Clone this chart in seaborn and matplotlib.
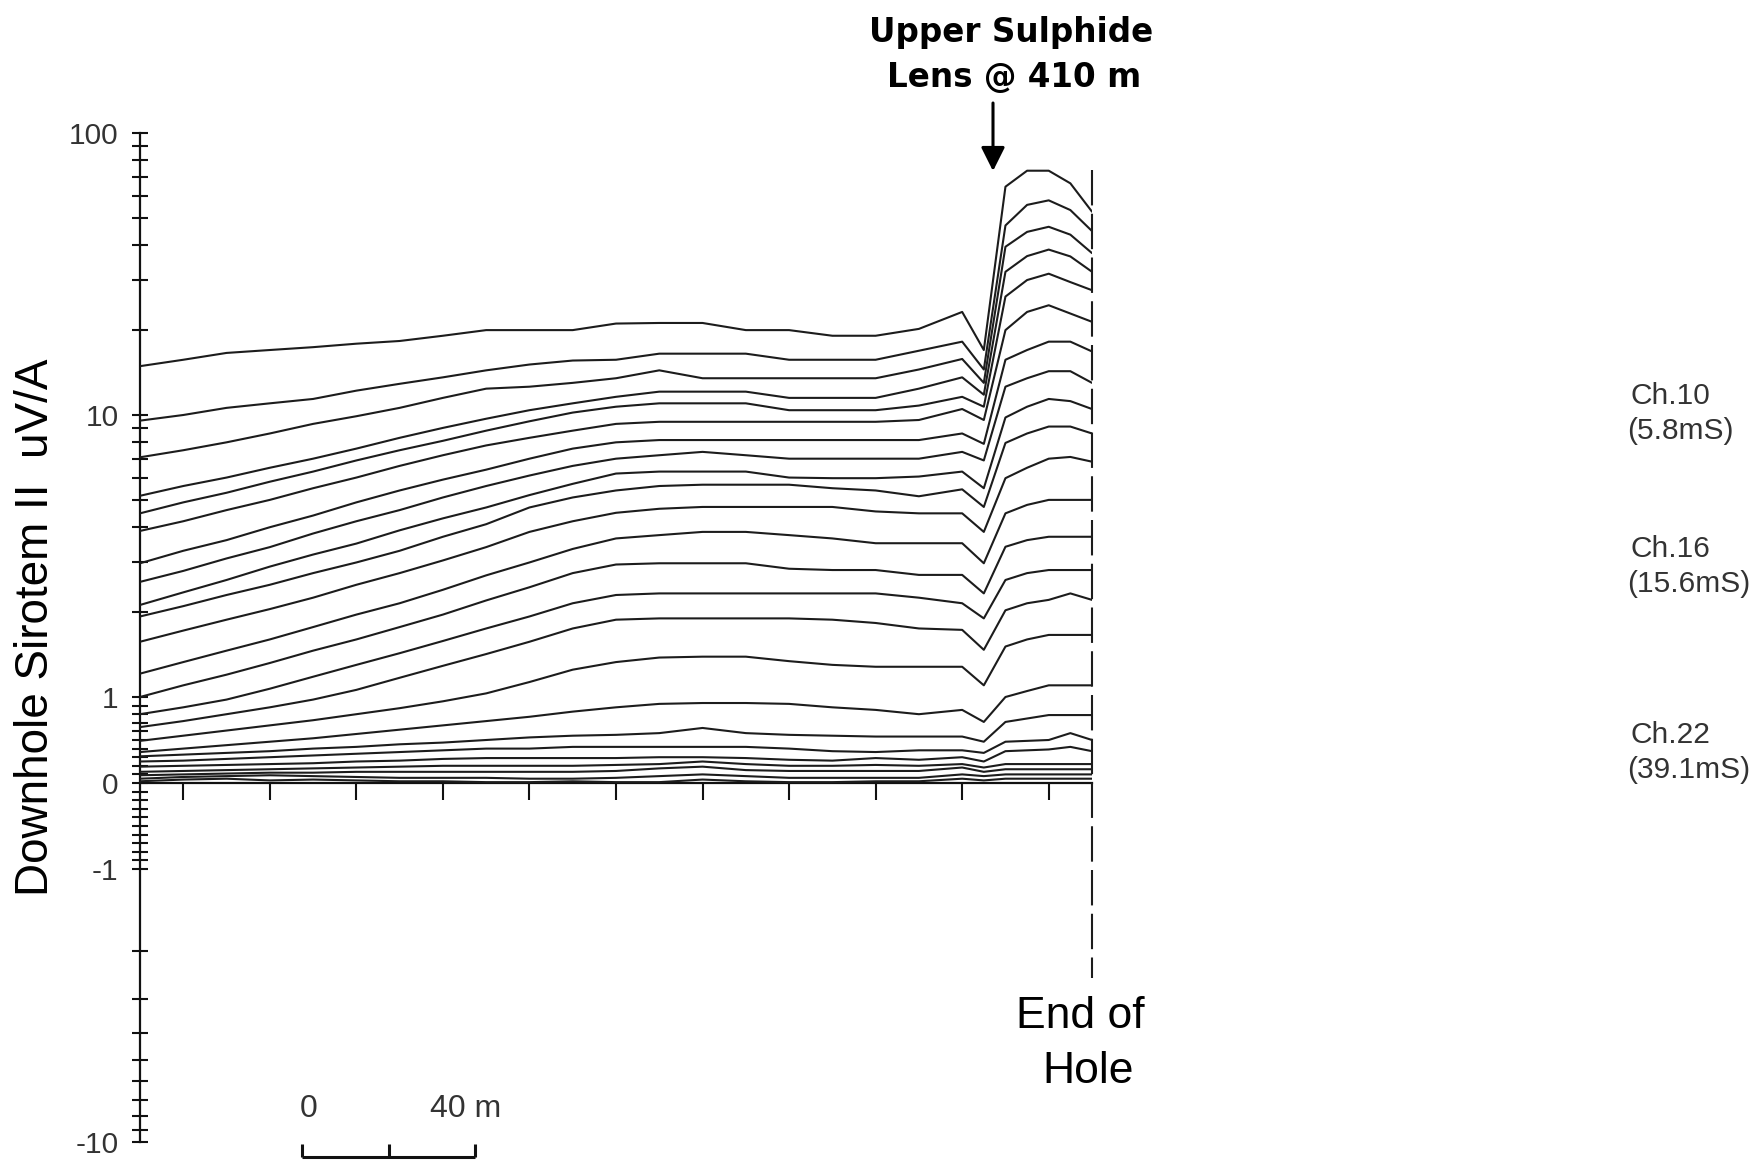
import numpy as np
import pandas as pd
import matplotlib
matplotlib.use("Agg")
import matplotlib.pyplot as plt
import seaborn as sns
from matplotlib.ticker import FixedLocator, FixedFormatter, NullFormatter
import matplotlib.transforms as mtransforms

# ---------------- data ----------------
depth = [210, 220, 230, 240, 250, 260, 270, 280, 290, 300, 310, 320, 330, 340,
         350, 360, 370, 380, 390, 400, 405, 410, 415, 420, 425, 430]

ch01 = [14.9, 15.7, 16.6, 17.0, 17.4, 17.9, 18.3, 19.1, 20.0, 20.0, 20.0, 21.1, 21.2, 21.2, 20.0, 20.0, 19.1, 19.1, 20.2, 23.2, 17.0, 64.5, 73.5, 73.5, 66.3, 52.6]
ch02 = [9.55, 10.0, 10.6, 11.0, 11.4, 12.2, 12.9, 13.6, 14.4, 15.1, 15.6, 15.7, 16.5, 16.5, 16.5, 15.7, 15.7, 15.7, 16.9, 18.2, 14.5, 47.0, 55.6, 57.7, 53.3, 44.9]
ch03 = [7.08, 7.5, 8.0, 8.6, 9.3, 9.9, 10.6, 11.5, 12.4, 12.6, 13.0, 13.5, 14.4, 13.5, 13.5, 13.5, 13.5, 13.5, 14.5, 15.8, 13.0, 39.5, 44.6, 46.5, 43.6, 37.5]
ch04 = [5.17, 5.6, 6.0, 6.5, 7.0, 7.6, 8.3, 9.0, 9.7, 10.4, 11.0, 11.6, 12.1, 12.1, 12.1, 11.5, 11.5, 11.5, 12.4, 13.6, 11.8, 32.2, 36.6, 38.6, 36.5, 32.2]
ch05 = [4.48, 4.9, 5.3, 5.8, 6.3, 6.9, 7.5, 8.1, 8.8, 9.5, 10.2, 10.7, 11.0, 11.0, 11.0, 10.4, 10.4, 10.4, 10.8, 11.6, 10.7, 26.3, 30.1, 31.7, 29.6, 27.7]
ch06 = [3.88, 4.2, 4.6, 5.0, 5.5, 6.0, 6.6, 7.2, 7.8, 8.3, 8.8, 9.3, 9.46, 9.46, 9.46, 9.46, 9.46, 9.46, 9.6, 10.5, 9.6, 20.0, 23.2, 24.5, 22.9, 21.4]
ch07 = [2.98, 3.3, 3.6, 4.0, 4.4, 4.9, 5.4, 5.9, 6.4, 7.0, 7.6, 8.0, 8.15, 8.15, 8.15, 8.15, 8.15, 8.15, 8.15, 8.6, 7.9, 15.7, 17.0, 18.2, 18.2, 16.8]
ch08 = [2.56, 2.8, 3.1, 3.4, 3.8, 4.2, 4.6, 5.1, 5.6, 6.1, 6.6, 7.0, 7.2, 7.4, 7.2, 7.0, 7.0, 7.0, 7.0, 7.4, 6.9, 12.6, 13.5, 14.3, 14.3, 13.0]
ch09 = [2.12, 2.35, 2.6, 2.9, 3.2, 3.5, 3.9, 4.3, 4.7, 5.2, 5.7, 6.2, 6.3, 6.3, 6.3, 6.0, 5.97, 5.97, 6.05, 6.3, 5.5, 9.8, 10.7, 11.4, 11.2, 10.5]
ch10 = [1.93, 2.1, 2.3, 2.5, 2.75, 3.0, 3.3, 3.7, 4.1, 4.7, 5.1, 5.4, 5.6, 5.66, 5.66, 5.66, 5.5, 5.4, 5.15, 5.45, 4.72, 7.96, 8.6, 9.1, 9.1, 8.6]
ch11 = [1.57, 1.72, 1.88, 2.05, 2.25, 2.5, 2.75, 3.05, 3.4, 3.85, 4.2, 4.5, 4.65, 4.72, 4.72, 4.72, 4.72, 4.55, 4.48, 4.48, 3.85, 5.97, 6.5, 7.0, 7.1, 6.83]
ch12 = [1.21, 1.33, 1.46, 1.6, 1.77, 1.96, 2.15, 2.4, 2.7, 3.0, 3.35, 3.65, 3.75, 3.85, 3.85, 3.75, 3.65, 3.51, 3.51, 3.51, 2.98, 4.48, 4.8, 5.0, 5.0, 5.0]
ch13 = [1.0, 1.1, 1.2, 1.32, 1.46, 1.6, 1.77, 1.96, 2.2, 2.45, 2.75, 2.95, 2.98, 2.98, 2.98, 2.85, 2.82, 2.82, 2.71, 2.71, 2.33, 3.41, 3.6, 3.7, 3.7, 3.7]
ch14 = [0.80, 0.88, 0.97, 1.07, 1.18, 1.3, 1.43, 1.58, 1.75, 1.93, 2.15, 2.3, 2.33, 2.33, 2.33, 2.33, 2.33, 2.33, 2.25, 2.15, 1.90, 2.60, 2.75, 2.82, 2.82, 2.82]
ch15 = [0.65, 0.72, 0.80, 0.88, 0.97, 1.06, 1.17, 1.29, 1.42, 1.57, 1.75, 1.88, 1.90, 1.90, 1.90, 1.90, 1.88, 1.83, 1.75, 1.73, 1.47, 2.03, 2.15, 2.21, 2.33, 2.21]
ch16 = [0.49, 0.55, 0.61, 0.67, 0.73, 0.80, 0.87, 0.95, 1.03, 1.13, 1.25, 1.33, 1.38, 1.39, 1.39, 1.34, 1.30, 1.28, 1.28, 1.28, 1.10, 1.51, 1.60, 1.66, 1.66, 1.66]
ch17 = [0.36, 0.40, 0.44, 0.48, 0.52, 0.57, 0.62, 0.67, 0.72, 0.77, 0.83, 0.88, 0.92, 0.93, 0.93, 0.92, 0.88, 0.85, 0.80, 0.85, 0.71, 1.0, 1.05, 1.10, 1.10, 1.10]
ch18 = [0.31, 0.33, 0.35, 0.37, 0.40, 0.42, 0.45, 0.47, 0.50, 0.53, 0.55, 0.56, 0.58, 0.64, 0.58, 0.56, 0.55, 0.54, 0.54, 0.54, 0.48, 0.71, 0.75, 0.79, 0.79, 0.79]
ch19 = [0.25, 0.26, 0.28, 0.30, 0.32, 0.34, 0.36, 0.38, 0.40, 0.40, 0.42, 0.42, 0.42, 0.42, 0.42, 0.40, 0.37, 0.36, 0.38, 0.38, 0.35, 0.48, 0.49, 0.50, 0.58, 0.50]
ch20 = [0.19, 0.20, 0.21, 0.22, 0.23, 0.25, 0.26, 0.28, 0.29, 0.29, 0.29, 0.29, 0.30, 0.30, 0.29, 0.27, 0.26, 0.29, 0.27, 0.30, 0.25, 0.37, 0.38, 0.39, 0.42, 0.37]
ch21 = [0.13, 0.14, 0.15, 0.16, 0.17, 0.18, 0.19, 0.20, 0.20, 0.20, 0.20, 0.21, 0.22, 0.25, 0.22, 0.20, 0.20, 0.21, 0.20, 0.22, 0.18, 0.22, 0.22, 0.22, 0.22, 0.22]
ch22 = [0.09, 0.10, 0.11, 0.12, 0.12, 0.13, 0.13, 0.13, 0.13, 0.13, 0.13, 0.14, 0.17, 0.19, 0.15, 0.14, 0.14, 0.14, 0.14, 0.18, 0.13, 0.16, 0.16, 0.16, 0.16, 0.16]
ch23 = [0.05, 0.07, 0.08, 0.09, 0.08, 0.07, 0.06, 0.06, 0.06, 0.05, 0.05, 0.06, 0.08, 0.10, 0.08, 0.06, 0.06, 0.06, 0.06, 0.10, 0.08, 0.10, 0.10, 0.10, 0.10, 0.10]
ch24 = [0.02, 0.04, 0.05, 0.03, 0.04, 0.03, 0.02, 0.02, 0.01, 0.01, 0.02, 0.01, 0.01, 0.04, 0.02, 0.01, 0.01, 0.02, 0.02, 0.05, 0.03, 0.05, 0.05, 0.05, 0.05, 0.05]

channels = [ch01, ch02, ch03, ch04, ch05, ch06, ch07, ch08, ch09, ch10, ch11, ch12,
            ch13, ch14, ch15, ch16, ch17, ch18, ch19, ch20, ch21, ch22, ch23, ch24]

y_major = [-10, -1, 0, 1, 10, 100]
y_major_labels = ["-10", "-1", "0", "1", "10", "100"]
x_ticks = [220, 240, 260, 280, 300, 320, 340, 360, 380, 400, 420]
end_of_hole = 430
lens_depth = 410

# ---------------- style ----------------
sns.set_theme(style="white")
plt.rcParams["font.family"] = ["Liberation Sans", "DejaVu Sans"]

W, H = 1754, 1161
fig = plt.figure(figsize=(W / 100, H / 100), dpi=100)
fig.patch.set_facecolor("white")
ax = fig.add_axes([140 / W, 19 / H, 952 / W, 1009 / H])
ax.set_facecolor("white")

rows = []
for i, vals in enumerate(channels):
    for d, v in zip(depth, vals):
        rows.append({"depth": d, "value": v, "line": f"L{i+1:02d}"})
df = pd.DataFrame(rows)

LINE_C = "#1c1c1c"
sns.lineplot(data=df, x="depth", y="value", hue="line",
             palette=[LINE_C] * len(channels), legend=False,
             linewidth=1.5, estimator=None, sort=False, ax=ax, zorder=3)

# custom symmetric-log scale (log above 1, linear 0..1)
LIN = 86 / 282
NEGK = 273 / 282


def fwd(v):
    v = np.asarray(v, dtype=float)
    a = np.abs(v)
    lg = np.log10(np.where(a >= 1, a, 1.0))
    return np.where(v >= 1, lg + LIN, np.where(v <= -1, -(NEGK * lg + LIN), v * LIN))


def inv(y):
    y = np.asarray(y, dtype=float)
    up = 10 ** np.clip(y - LIN, -30, 30)
    dn = -10 ** np.clip((-y - LIN) / NEGK, -30, 30)
    return np.where(y >= LIN, up, np.where(y <= -LIN, dn, y / LIN))


ax.set_yscale("function", functions=(fwd, inv))
ax.set_ylim(-10, 100)
ax.set_xlim(210, 430)

minor = ([-9, -8, -7, -6, -5, -4, -3, -2] +
         [-0.9, -0.8, -0.7, -0.6, -0.5, -0.4, -0.3, -0.2, -0.1] +
         [0.1, 0.2, 0.3, 0.4, 0.5, 0.6, 0.7, 0.8, 0.9] +
         [2, 3, 4, 5, 6, 7, 8, 9] + [20, 30, 40, 50, 60, 70, 80, 90])
ax.yaxis.set_major_locator(FixedLocator(y_major))
ax.yaxis.set_major_formatter(FixedFormatter(y_major_labels))
ax.yaxis.set_minor_locator(FixedLocator(minor))
ax.yaxis.set_minor_formatter(NullFormatter())
ax.tick_params(axis="y", which="both", direction="inout", length=11, width=1.5,
               color="#111111", left=True, right=False, labelsize=21.5,
               labelcolor="#333333", pad=10)

ax.xaxis.set_major_locator(FixedLocator(x_ticks))
ax.tick_params(axis="x", which="both", direction="out", length=12, width=1.5,
               color="#111111", bottom=True, top=False, labelbottom=False)
ax.xaxis.set_minor_locator(FixedLocator([]))

for s in ["top", "right"]:
    ax.spines[s].set_visible(False)
ax.spines["left"].set_color("#111111")
ax.spines["left"].set_linewidth(1.6)
ax.spines["bottom"].set_position(("data", 0))
ax.spines["bottom"].set_color("#111111")
ax.spines["bottom"].set_linewidth(1.6)
ax.set_xlabel("")
ax.set_ylabel("")
ax.grid(False)

# end of hole dashed marker
ax.plot([end_of_hole, end_of_hole], [74, -2.5], color="#1c1c1c", lw=1.5,
        linestyle=(0, (17, 4)), zorder=4, clip_on=False)


def fx(px):
    return px / W


def fy(py):
    return 1 - py / H


# titles / annotations (figure coordinates, baseline positioned)
fig.text(fx(36), fy(627), "Downhole Sirotem II  uV/A", rotation=90,
         ha="center", va="center", fontsize=33, color="black")

fig.text(fx(1011), fy(42), "Upper Sulphide", ha="center", va="baseline",
         fontsize=23.5, fontweight="bold", family=["DejaVu Sans"], color="black")
fig.text(fx(1014), fy(87), "Lens @ 410 m", ha="center", va="baseline",
         fontsize=23.5, fontweight="bold", family=["DejaVu Sans"], color="black")

ax.annotate("", xy=(fx(993), fy(171)), xytext=(fx(993), fy(103)),
            xycoords="figure fraction", textcoords="figure fraction",
            arrowprops=dict(arrowstyle="-|>,head_length=1.0,head_width=0.5",
                            mutation_scale=14.5, lw=2.2, color="black",
                            shrinkA=0, shrinkB=0))

fig.text(fx(1080), fy(1028), "End of", ha="center", va="baseline",
         fontsize=32, color="black")
fig.text(fx(1088), fy(1083), "Hole", ha="center", va="baseline",
         fontsize=32, color="black")

# scale bar (0 - 40 m) in depth units along x
bt = mtransforms.blended_transform_factory(ax.transData, fig.transFigure)
sb0 = 247.5
ax.plot([sb0, sb0 + 40], [fy(1157), fy(1157)], transform=bt, color="#111111",
        lw=2.2, clip_on=False, solid_capstyle="butt")
for t in [sb0, sb0 + 20, sb0 + 40]:
    ax.plot([t, t], [fy(1157), fy(1144)], transform=bt, color="#111111",
            lw=2.2, clip_on=False, solid_capstyle="butt")
fig.text(fx(300), fy(1117), "0", ha="left", va="baseline", fontsize=23,
         color="#333333")
fig.text(fx(430), fy(1117), "40 m", ha="left", va="baseline", fontsize=23,
         color="#333333")

# channel labels on the right
labels = [("Ch.10", "(5.8mS)", 404), ("Ch.16", "(15.6mS)", 557), ("Ch.22", "(39.1mS)", 743)]
for a, b, base in labels:
    fig.text(fx(1630), fy(base), a, ha="left", va="baseline", fontsize=21.5,
             color="#333333")
    fig.text(fx(1627), fy(base + 35), b, ha="left", va="baseline", fontsize=21.5,
             color="#333333")

fig.savefig("out.png", dpi=100, facecolor="white")
